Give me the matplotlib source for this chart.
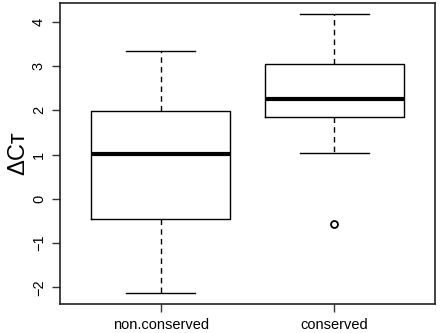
import matplotlib
matplotlib.use("Agg")
import matplotlib.pyplot as plt

categories = ["non.conserved", "conserved"]
medians = [1.02, 2.26]
q1 = [-0.46, 1.86]
q3 = [1.98, 3.05]
whisker_lo = [-2.13, 1.04]
whisker_hi = [3.35, 4.18]
outliers = [[], [-0.56]]
yticks = [-2, -1, 0, 1, 2, 3, 4]

plt.rcParams['font.family'] = ['Liberation Sans', 'DejaVu Sans']

fig = plt.figure(figsize=(4.4, 3.33), dpi=100)
ax = fig.add_axes([0.136, 0.087, 0.853, 0.904])

stats = []
for i, c in enumerate(categories):
    stats.append(dict(label=c, med=medians[i], q1=q1[i], q3=q3[i],
                      whislo=whisker_lo[i], whishi=whisker_hi[i], fliers=outliers[i]))

ax.bxp(stats, positions=[1, 2], widths=0.8, showfliers=True,
       boxprops=dict(color='black', linewidth=1.0),
       medianprops=dict(color='black', linewidth=3.0, solid_capstyle='butt'),
       whiskerprops=dict(color='black', linewidth=1.0, linestyle=(0, (4, 3))),
       capprops=dict(color='black', linewidth=1.0),
       capwidths=0.4,
       flierprops=dict(marker='o', markersize=5, markerfacecolor='white',
                       markeredgecolor='black', markeredgewidth=1.3, linestyle='none'))

ax.set_xlim(0.42, 2.58)
ax.set_ylim(-2.38, 4.43)
ax.set_yticks(yticks)
ax.set_yticklabels([str(t).replace('-', '\u2212') for t in yticks], rotation=90, va='center')
ax.set_xticks([1, 2])
ax.set_xticklabels(categories)
ax.tick_params(axis='both', length=6, width=1.0, labelsize=10.5, color='#333333', pad=4)
for s in ax.spines.values():
    s.set_linewidth(1.2)
    s.set_color('#222222')
ax.set_ylabel('\u0394C\u1d1b', fontsize=17, labelpad=2)

fig.savefig('out.png', dpi=100)
